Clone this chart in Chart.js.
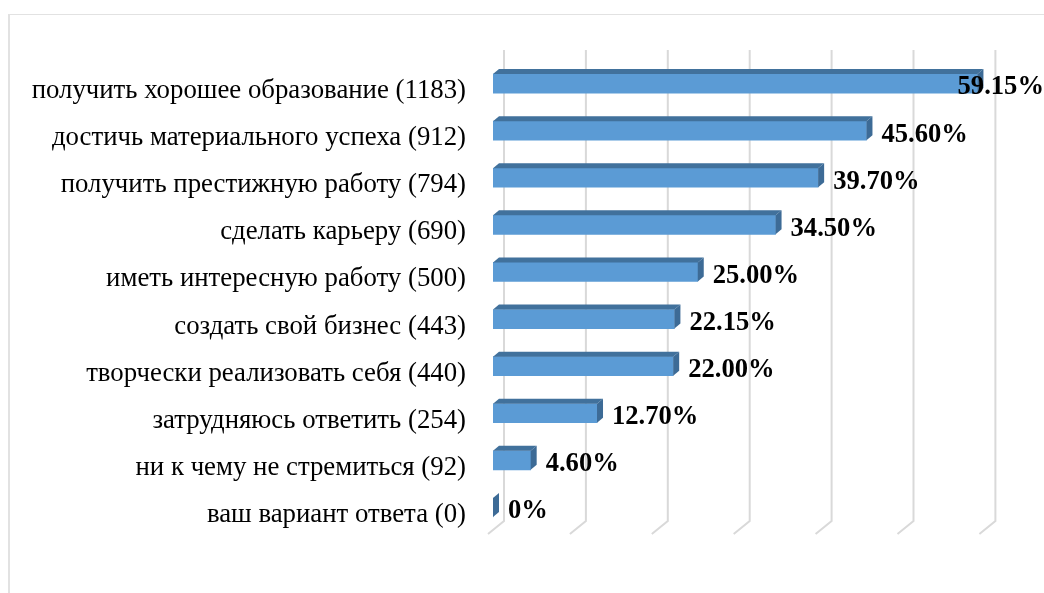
<!DOCTYPE html>
<html>
<head>
<meta charset="utf-8">
<script src="https://cdn.jsdelivr.net/npm/chart.js@4"></script>
<style>
  html, body { margin: 0; background: #fff; overflow: hidden; }
  #frame { position: absolute; left: 8px; top: 14px; width: 1036px; height: 579px;
           border-top: 1px solid #e2e2e2; border-left: 2px solid #e2e2e2; box-sizing: border-box; }
  #chart { position: absolute; left: 0; top: 0; }
</style>
</head>
<body>
<div id="frame"></div>
<canvas id="chart" width="1044" height="593"></canvas>
<script>
const categorias = [
  "получить хорошее образование (1183)",
  "достичь материального успеха (912)",
  "получить престижную работу (794)",
  "сделать карьеру (690)",
  "иметь интересную работу (500)",
  "создать свой бизнес (443)",
  "творчески реализовать себя (440)",
  "затрудняюсь ответить (254)",
  "ни к чему не стремиться (92)",
  "ваш вариант ответа (0)",
];
const valores = [59.15, 45.6, 39.7, 34.5, 25, 22.15, 22, 12.7, 4.6, 0];
const gridTicks = [0, 10, 20, 30, 40, 50, 60];

// la profundidad del efecto 3D
const DX = 6, DY = 5;

function cara(ctx, puntos, color) {
  ctx.fillStyle = color;
  ctx.beginPath();
  puntos.forEach((p, i) => (i ? ctx.lineTo(p[0], p[1]) : ctx.moveTo(p[0], p[1])));
  ctx.closePath();
  ctx.fill();
}

// rejilla del plano trasero, con el pie inclinado
const rejilla3d = {
  id: "rejilla3d",
  beforeDatasetsDraw(chart) {
    const { ctx, scales, chartArea } = chart;
    ctx.save();
    ctx.strokeStyle = "#d9d9d9";
    ctx.lineWidth = 2;
    gridTicks.forEach((t) => {
      const x = scales.x.getPixelForValue(t) + 11;
      ctx.beginPath();
      ctx.moveTo(x, chartArea.top - 10);
      ctx.lineTo(x, chartArea.bottom - 10);
      ctx.lineTo(x - 16, chartArea.bottom + 3);
      ctx.stroke();
    });
    ctx.restore();
  },
};

// caras superior y lateral de cada barra, y las etiquetas de valor
const barras3d = {
  id: "barras3d",
  afterDatasetsDraw(chart) {
    const { ctx } = chart;
    const barras = chart.getDatasetMeta(0).data;
    ctx.save();
    barras.forEach((b) => {
      const arriba = b.y - b.height / 2;
      const abajo = b.y + b.height / 2;
      if (b.x > b.base) {
        cara(ctx, [[b.base, arriba], [b.base + DX, arriba - DY], [b.x + DX, arriba - DY], [b.x, arriba]], "#41719c");
      }
      cara(ctx, [[b.x, arriba], [b.x + DX, arriba - DY], [b.x + DX, abajo - DY], [b.x, abajo]], "#3d6b96");
    });
    ctx.font = "bold 26.6px 'Liberation Serif'";
    ctx.fillStyle = "#000";
    ctx.textBaseline = "middle";
    barras.forEach((b, i) => {
      const texto = valores[i] === 0 ? "0%" : valores[i].toFixed(2) + "%";
      const x = Math.min(b.x + 15, 1044 - ctx.measureText(texto).width);
      ctx.fillText(texto, x, b.y + 4);
    });
    ctx.restore();
  },
};

new Chart(document.getElementById("chart").getContext("2d"), {
  type: "bar",
  data: {
    labels: categorias,
    datasets: [
      {
        data: valores,
        backgroundColor: "#5b9bd5",
        barThickness: 19,
      },
    ],
  },
  options: {
    indexAxis: "y",
    responsive: false,
    animation: false,
    layout: { padding: { top: 60, bottom: 54, right: 59.6, left: 0 } },
    plugins: { legend: { display: false }, tooltip: { enabled: false } },
    scales: {
      x: {
        min: 0,
        max: 60,
        grid: { display: false },
        border: { display: false },
        ticks: { display: false },
      },
      y: {
        afterFit(scale) {
          scale.width = 493;
        },
        grid: { display: false },
        border: { display: false },
        ticks: {
          color: "#000",
          padding: 19,
          labelOffset: 7.5,
          autoSkip: false,
          font: { family: "'Liberation Serif'", size: 26.8 },
        },
      },
    },
  },
  plugins: [rejilla3d, barras3d],
});
</script>
</body>
</html>
